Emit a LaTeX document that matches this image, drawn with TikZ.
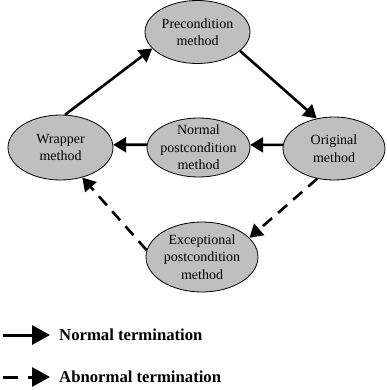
\documentclass[tikz,border=0pt]{standalone}
\usepackage{fontspec}
\setmainfont{Liberation Serif}
\usetikzlibrary{shapes.geometric,arrows.meta,positioning}

\begin{document}
\begin{tikzpicture}[
    x=1pt, y=-1pt,
    meth_ell/.style={ellipse, draw=black, line width=0.8pt, fill=black!25, align=center,
        inner xsep=-20pt, inner ysep=-12pt,
        font=\fontsize{14}{17.5}\selectfont},
    flow/.style={line width=2.6pt, -{Triangle[length=13pt,width=15pt]}},
    abn_flow/.style={flow, dash pattern=on 12pt off 8pt},
    key_text/.style={anchor=west, inner sep=0pt, font=\fontsize{16.7}{20}\selectfont\bfseries}
]
\useasboundingbox (0,0) rectangle (386,390);

\node[meth_ell, minimum width=105pt, minimum height=63pt] (pre) at (197.5,32) {
    Precondition\\method
};

\node[meth_ell, minimum width=105pt, minimum height=65pt] (wrap) at (60.5,147.5) {
    Wrapper\\method
};

\node[meth_ell, minimum width=103pt, minimum height=59pt] (npost) at (198.5,147.5) {
    Normal\\postcondition\\method
};

\node[meth_ell, minimum width=102pt, minimum height=63pt] (orig) at (334,148.5) {
    Original\\method
};

\node[meth_ell, minimum width=112pt, minimum height=70pt] (epost) at (202,257) {
    Exceptional\\postcondition\\method
};

\draw[flow] (wrap.82) -- (pre.200);
\draw[flow] (pre.336) -- (orig.120);
\draw[flow] (orig.176) -- (npost.3);
\draw[flow] (npost.177) -- (wrap.3);
\draw[abn_flow] (orig.241) -- (epost.22);
\draw[abn_flow] (epost.173) -- (wrap.306);

% key
\coordinate (k1a) at (3,335);
\coordinate (k1b) at (50,335);
\coordinate (k2a) at (3,377);
\coordinate (k2b) at (50,377);
\draw[line width=3pt, -{Triangle[length=18pt,width=19pt]}] (k1a) -- (k1b);
\draw[line width=3pt, dash pattern=on 15pt off 10pt, -{Triangle[length=18pt,width=19pt]}] (k2a) -- (k2b);
\node[key_text] (k1t) at (59,335) {Normal termination};
\node[key_text] (k2t) at (59,377) {Abnormal termination};

\end{tikzpicture}
\end{document}
